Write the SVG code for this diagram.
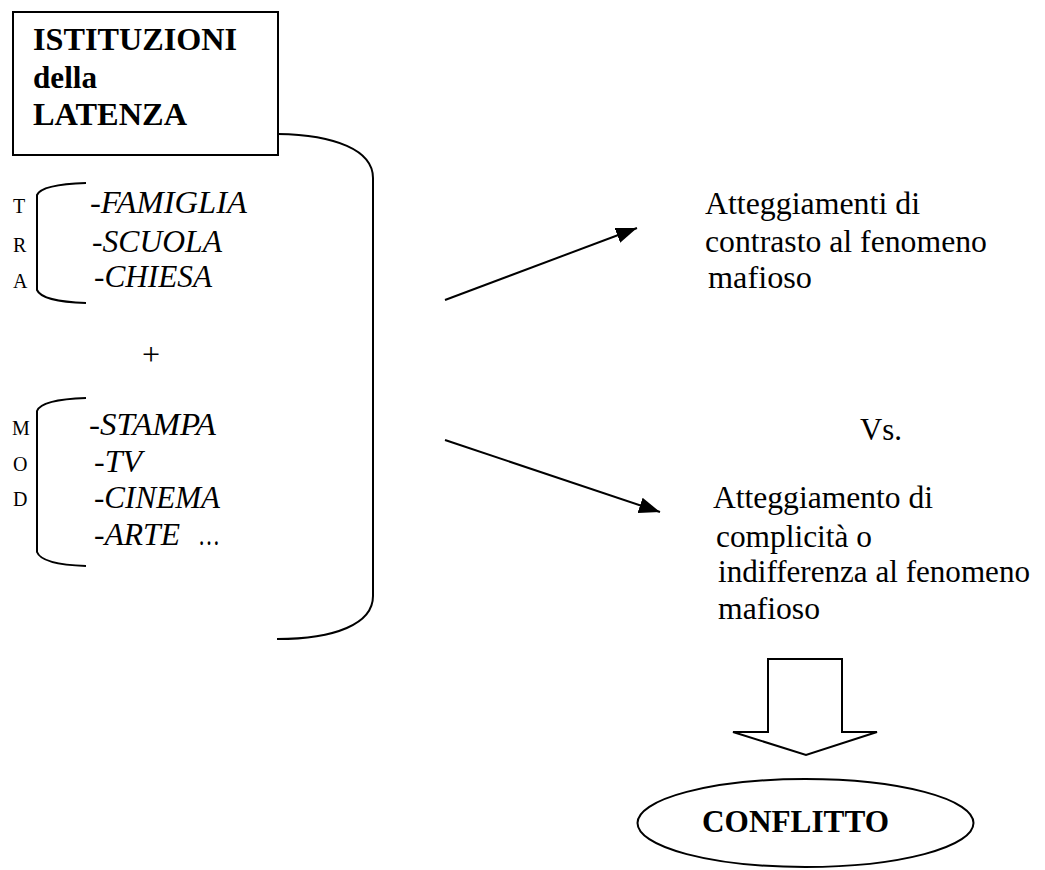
<svg xmlns="http://www.w3.org/2000/svg" width="1045" height="870" viewBox="0 0 1045 870">
  <style>
    .t { font-family: "Liberation Serif", "Times New Roman", serif; fill: #000; }
    .b { font-weight: bold; }
    .i { font-style: italic; }
    .s { font-size: 20px; }
    .m { font-size: 31px; }
    .r { font-size: 31px; }
    .ln { fill: none; stroke: #000; stroke-width: 2; }
  </style>
  <defs>
    <marker id="ah" markerUnits="userSpaceOnUse" markerWidth="22" markerHeight="16" refX="21" refY="8" orient="auto">
      <path d="M0,0 L21,8 L0,16 z" fill="#000"/>
    </marker>
  </defs>
  <rect width="1045" height="870" fill="#fff"/>

  <g id="istituzioni">
    <rect x="13" y="12" width="265" height="143" class="ln"/>
    <text class="t b m" x="33" y="50" textLength="204" lengthAdjust="spacingAndGlyphs">ISTITUZIONI</text>
    <text class="t b m" x="33" y="88" textLength="64" lengthAdjust="spacingAndGlyphs">della</text>
    <text class="t b m" x="33" y="125" textLength="154" lengthAdjust="spacingAndGlyphs">LATENZA</text>
  </g>

  <g id="tradizionali">
    <path class="ln" d="M86,183 C55,184 40,188 37,195 L37,290 C40,297 55,302 86,303"/>
    <text class="t s" x="13" y="213">T</text>
    <text class="t s" x="13" y="252">R</text>
    <text class="t s" x="13" y="288">A</text>
    <text class="t i m" x="90" y="213" textLength="157" lengthAdjust="spacingAndGlyphs">-FAMIGLIA</text>
    <text class="t i m" x="92" y="252" textLength="130" lengthAdjust="spacingAndGlyphs">-SCUOLA</text>
    <text class="t i m" x="94" y="287" textLength="118" lengthAdjust="spacingAndGlyphs">-CHIESA</text>
  </g>

  <g id="plus">
    <text class="t" x="151" y="365" font-size="32" text-anchor="middle" fill="#333">+</text>
  </g>

  <g id="moderne">
    <path class="ln" d="M86,398 C55,399 40,403 37,411 L37,552 C40,560 55,565 86,566"/>
    <text class="t s" x="12" y="435">M</text>
    <text class="t s" x="13" y="471">O</text>
    <text class="t s" x="13" y="506">D</text>
    <text class="t i m" x="89" y="435" textLength="127" lengthAdjust="spacingAndGlyphs">-STAMPA</text>
    <text class="t i m" x="94" y="472" textLength="48" lengthAdjust="spacingAndGlyphs">-TV</text>
    <text class="t i m" x="94" y="508" textLength="126" lengthAdjust="spacingAndGlyphs">-CINEMA</text>
    <text class="t i m" x="94" y="545" textLength="86" lengthAdjust="spacingAndGlyphs">-ARTE</text>
    <text class="t m" x="198" y="545" textLength="22" lengthAdjust="spacingAndGlyphs">…</text>
  </g>

  <g id="contrasto">
    <text class="t r" x="705" y="214" textLength="215" lengthAdjust="spacingAndGlyphs">Atteggiamenti di</text>
    <text class="t r" x="705" y="252" textLength="282" lengthAdjust="spacingAndGlyphs">contrasto al fenomeno</text>
    <text class="t r" x="708" y="288" textLength="104" lengthAdjust="spacingAndGlyphs">mafioso</text>
  </g>

  <g id="vs">
    <text class="t r" x="860" y="440" textLength="42" lengthAdjust="spacingAndGlyphs">Vs.</text>
  </g>

  <g id="complicita">
    <text class="t r" x="713" y="508" textLength="220" lengthAdjust="spacingAndGlyphs">Atteggiamento di</text>
    <text class="t r" x="716" y="547" textLength="156" lengthAdjust="spacingAndGlyphs">complicità o</text>
    <text class="t r" x="718" y="582" textLength="312" lengthAdjust="spacingAndGlyphs">indifferenza al fenomeno</text>
    <text class="t r" x="718" y="619" textLength="102" lengthAdjust="spacingAndGlyphs">mafioso</text>
  </g>

  <g id="conflitto">
    <ellipse cx="805.5" cy="823" rx="168" ry="44" class="ln"/>
    <text class="t b" x="702" y="832" font-size="32" textLength="187" lengthAdjust="spacingAndGlyphs">CONFLITTO</text>
  </g>

  <g id="connectors">
    <path class="ln" d="M278,134 C335,135 373,150 373,178 L373,596 C373,624 335,639 277,639"/>
    <line class="ln" x1="445" y1="300" x2="637" y2="228" marker-end="url(#ah)"/>
    <line class="ln" x1="445" y1="440" x2="660" y2="512" marker-end="url(#ah)"/>
    <polygon class="ln" points="768,659 842,659 842,732 877,732 806,755 733,732 768,732"/>
  </g>
</svg>
